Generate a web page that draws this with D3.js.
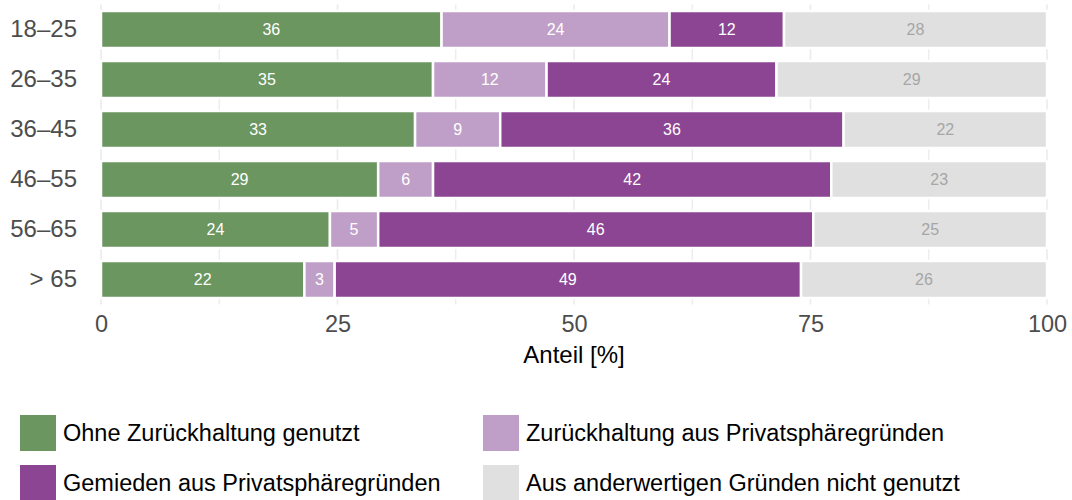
<!DOCTYPE html>
<html>
<head>
<meta charset="utf-8">
<script src="https://cdn.jsdelivr.net/npm/d3@7"></script>
<style>
  body { margin: 0; background: #fff; }
  text { font-family: "Liberation Sans", Arial, Helvetica, sans-serif; }
</style>
</head>
<body>
<script>
// age groups (top to bottom)
var ageGroups = ["18–25", "26–35", "36–45", "46–55", "56–65", "> 65"];

// series names
var seriesNames = [
    "Ohne Zurückhaltung genutzt",
    "Zurückhaltung aus Privatsphäregründen",
    "Gemieden aus Privatsphäregründen",
    "Aus anderwertigen Gründen nicht genutzt"
];

// shares in percent, one value per age group
var ohneZurueckhaltung = [36.0, 35.1, 33.2, 29.3, 24.2, 21.5];
var zurueckhaltung     = [24.1, 12.0,  9.0,  5.8,  5.1,  3.2];
var gemieden           = [12.1, 24.3, 36.3, 42.1, 46.0, 49.3];
var andereGruende      = [27.8, 28.6, 21.5, 22.8, 24.7, 26.0];

var xTicks = [0, 25, 50, 75, 100];
var xMinor = [12.5, 37.5, 62.5, 87.5];

var colors = ["#6b9660", "#bf9fc7", "#8b4593", "#e0e0e0"];
var labelColors = ["#ffffff", "#ffffff", "#ffffff", "#a6a6a6"];

// set the dimensions
var width = 1072, height = 500;
var plot = { left: 101, right: 1047, top: 4.5, bottom: 304.5 };

var svg = d3.select("body").append("svg")
    .attr("width", width)
    .attr("height", height);

// build table for the stack
var table = ageGroups.map(function(a, i) {
    return {
        age: a,
        s0: ohneZurueckhaltung[i],
        s1: zurueckhaltung[i],
        s2: gemieden[i],
        s3: andereGruende[i]
    };
});
var keys = ["s0", "s1", "s2", "s3"];
var stacked = d3.stack().keys(keys)(table);

// set the ranges
var x = d3.scaleLinear().domain([0, 100]).range([plot.left, plot.right]);
var y = d3.scaleBand().domain(ageGroups).range([plot.top, plot.bottom])
    .paddingInner(0.26).paddingOuter(0.13);

// grid lines
svg.append("g")
    .selectAll("line")
    .data(xTicks.concat(xMinor))
    .enter().append("line")
    .attr("x1", function(d) { return x(d); })
    .attr("x2", function(d) { return x(d); })
    .attr("y1", plot.top)
    .attr("y2", plot.bottom)
    .style("stroke", "#ebebeb")
    .style("stroke-width", function(d) { return xTicks.indexOf(d) >= 0 ? 1.6 : 1.3; });

// bars
var layers = svg.append("g")
    .selectAll("g")
    .data(stacked)
    .enter().append("g")
    .attr("fill", function(d, i) { return colors[i]; });

layers.selectAll("rect")
    .data(function(d) { return d; })
    .enter().append("rect")
    .attr("x", function(d) { return x(d[0]); })
    .attr("y", function(d) { return y(d.data.age); })
    .attr("width", function(d) { return x(d[1]) - x(d[0]); })
    .attr("height", y.bandwidth())
    .style("stroke", "#ffffff")
    .style("stroke-width", 2.5);

// value labels
layers.each(function(layer, li) {
    d3.select(this).selectAll("text")
        .data(layer)
        .enter().append("text")
        .attr("x", function(d) { return (x(d[0]) + x(d[1])) / 2; })
        .attr("y", function(d) { return y(d.data.age) + y.bandwidth() / 2; })
        .attr("dy", "0.36em")
        .attr("text-anchor", "middle")
        .style("font-size", "16px")
        .style("fill", labelColors[li])
        .text(function(d) { return Math.round(d[1] - d[0]); });
});

// Add the X Axis
var xAxis = svg.append("g")
    .attr("transform", "translate(0," + plot.bottom + ")")
    .call(d3.axisBottom(x).tickValues(xTicks).tickSize(0).tickPadding(11));
xAxis.select(".domain").remove();
xAxis.selectAll("text")
    .style("font-size", "23.5px")
    .style("fill", "#4d4d4d")
    .style("font-family", "Liberation Sans, Arial, sans-serif");

// Add the Y Axis
var yAxis = svg.append("g")
    .attr("transform", "translate(" + (plot.left - 24) + ",0)")
    .call(d3.axisLeft(y).tickSize(0).tickPadding(0));
yAxis.select(".domain").remove();
yAxis.selectAll("text")
    .style("font-size", "24px")
    .style("fill", "#4d4d4d")
    .style("font-family", "Liberation Sans, Arial, sans-serif");

// axis title
svg.append("text")
    .attr("x", (plot.left + plot.right) / 2)
    .attr("y", 363)
    .attr("text-anchor", "middle")
    .style("font-size", "24px")
    .style("fill", "#000")
    .text("Anteil [%]");

// legend
var legendPos = [
    { x: 20, y: 415 },
    { x: 483, y: 415 },
    { x: 20, y: 465 },
    { x: 483, y: 465 }
];
var legend = svg.append("g")
    .selectAll("g")
    .data(seriesNames)
    .enter().append("g")
    .attr("transform", function(d, i) {
        return "translate(" + legendPos[i].x + "," + legendPos[i].y + ")";
    });

legend.append("rect")
    .attr("width", 36)
    .attr("height", 36)
    .attr("fill", function(d, i) { return colors[i]; });

legend.append("text")
    .attr("x", 43)
    .attr("y", 18)
    .attr("dy", "0.36em")
    .style("font-size", "23.5px")
    .style("fill", "#000")
    .text(function(d) { return d; });
</script>
</body>
</html>
